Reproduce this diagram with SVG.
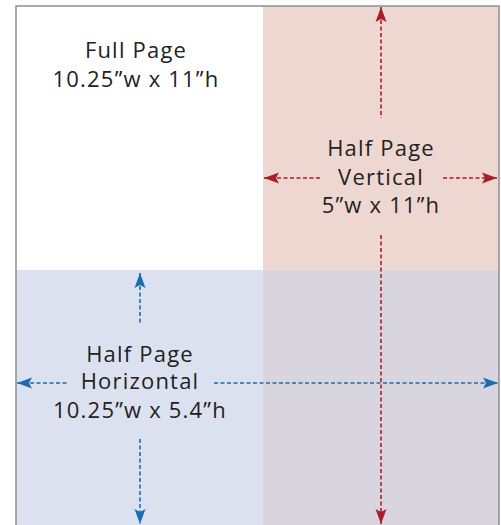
<svg xmlns="http://www.w3.org/2000/svg" width="501" height="525" viewBox="0 0 501 525">
<style>
.lbl{font-family:"Open Sans","Liberation Sans",sans-serif;font-size:22px;letter-spacing:1.2px;fill:#222;text-anchor:middle}
.red{stroke:#a91f27;stroke-width:1.6;stroke-dasharray:4 2.5;fill:none}
.blue{stroke:#1b6cb1;stroke-width:1.6;stroke-dasharray:4 2.5;fill:none}
</style>
<defs>
<marker id="ar" viewBox="-15 -6 16 12" markerWidth="16" markerHeight="12" refX="0" refY="0" markerUnits="userSpaceOnUse" orient="auto-start-reverse">
<path d="M0,0 L-15,-5.5 L-12,0 L-15,5.5 Z" fill="#a91f27"/>
</marker>
<marker id="ab" viewBox="-15 -6 16 12" markerWidth="16" markerHeight="12" refX="0" refY="0" markerUnits="userSpaceOnUse" orient="auto-start-reverse">
<path d="M0,0 L-15,-5.5 L-12,0 L-15,5.5 Z" fill="#1b6cb1"/>
</marker>
</defs>
<rect x="0" y="0" width="501" height="525" fill="#ffffff"/>
<g id="full-page">
<rect x="16" y="6" width="483" height="519" fill="#ffffff"/>
<text class="lbl" x="136" y="58">Full Page</text>
<text class="lbl" x="136" y="87">10.25”w x 11”h</text>
</g>
<g id="half-vertical">
<rect x="263" y="6" width="236" height="264" fill="#eed7d0"/>
<text class="lbl" x="381" y="156">Half Page</text>
<text class="lbl" x="381" y="185">Vertical</text>
<text class="lbl" x="381" y="213">5”w x 11”h</text>
</g>
<g id="half-horizontal">
<rect x="16" y="270" width="247" height="255" fill="#dce1ef"/>
<rect x="263" y="270" width="236" height="255" fill="#d9d5df"/>
<text class="lbl" x="140" y="362">Half Page</text>
<text class="lbl" x="140" y="389">Horizontal</text>
<text class="lbl" x="140" y="418">10.25”w x 5.4”h</text>
</g>
<g id="border" fill="none" stroke="#8e8e8e" stroke-width="1.5">
<path d="M16,525 V6 H499 V525"/>
</g>
<g id="connectors">
<line class="red" x1="381" y1="7" x2="381" y2="118" marker-start="url(#ar)"/>
<line class="red" x1="381" y1="235" x2="381" y2="524" marker-end="url(#ar)"/>
<line class="red" x1="264" y1="178" x2="320" y2="178" marker-start="url(#ar)"/>
<line class="red" x1="443" y1="178" x2="497" y2="178" marker-end="url(#ar)"/>
<line class="blue" x1="140" y1="273" x2="140" y2="325" marker-start="url(#ab)"/>
<line class="blue" x1="140" y1="439" x2="140" y2="524" marker-end="url(#ab)"/>
<line class="blue" x1="17" y1="383" x2="67" y2="383" marker-start="url(#ab)"/>
<line class="blue" x1="214" y1="383" x2="498" y2="383" marker-end="url(#ab)"/>
</g>
</svg>
